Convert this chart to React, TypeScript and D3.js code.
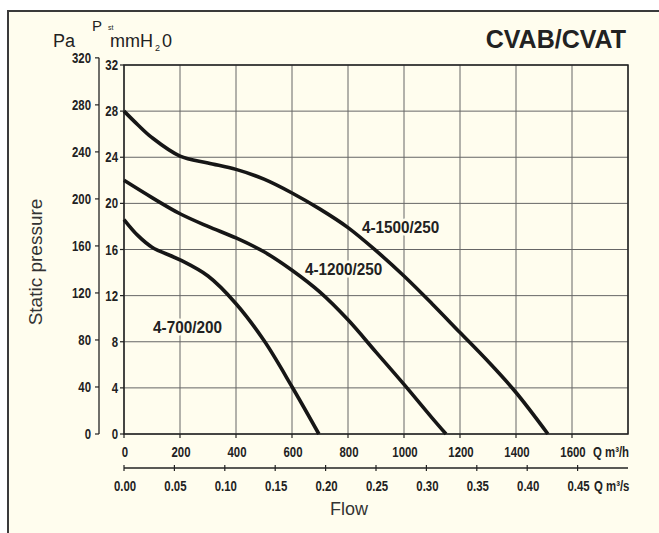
import React from "react";
import * as d3 from "d3";

const flowTicksH = [0, 200, 400, 600, 800, 1000, 1200, 1400, 1600];
const flowGridH = [0, 200, 400, 600, 800, 1000, 1200, 1400, 1600, 1800];
const flowTicksS = [0, 0.05, 0.1, 0.15, 0.2, 0.25, 0.3, 0.35, 0.4, 0.45];
const mmTicks = [0, 4, 8, 12, 16, 20, 24, 28, 32];
const paTicks = [0, 40, 80, 120, 160, 200, 240, 280, 320];

const curve700Q = [0, 50, 100, 200, 300, 400, 500, 600, 696];
const curve700P = [18.6, 17.2, 16.2, 15.1, 13.7, 11.3, 8.1, 4.1, 0];
const curve1200Q = [0, 100, 200, 300, 400, 500, 600, 700, 800, 900, 1000, 1100, 1150];
const curve1200P = [22.0, 20.5, 19.1, 18.0, 17.0, 15.8, 14.2, 12.3, 9.9, 7.1, 4.3, 1.4, 0];
const curve1500Q = [0, 50, 100, 200, 300, 400, 500, 600, 700, 800, 900, 1000, 1100, 1200, 1300, 1400, 1514];
const curve1500P = [28.0, 26.8, 25.7, 24.1, 23.5, 22.95, 22.1, 20.9, 19.5, 17.9, 15.9, 13.7, 11.3, 8.8, 6.3, 3.6, 0];

const curveNames = ["4-700/200", "4-1200/250", "4-1500/250"];
const labelQ = [104, 646, 850];
const labelP = [8.76, 13.8, 17.43];

const BG = "#FFFDEE";
const SANS = "'Liberation Sans', Arial, Helvetica, sans-serif";

function NT(props: { x: number; y: number; anchor?: string; sx?: number; size?: number; children: any }) {
  const { x, y, anchor = "start", sx = 0.76, size = 15, children } = props;
  return (
    <text
      transform={`translate(${x},${y}) scale(${sx},1)`}
      textAnchor={anchor}
      fontFamily={SANS}
      fontWeight="bold"
      fontSize={size}
      fill="#222"
    >
      {children}
    </text>
  );
}

export default function App() {
  const x = d3.scaleLinear().domain([0, 1800]).range([124, 628]);
  const y = d3.scaleLinear().domain([0, 32]).range([434, 65]);
  const xs = (v: number) => x(v * 3600);
  const yPa = (pa: number) => y(pa / 9.81);
  const line = d3
    .line<[number, number]>()
    .x((d) => x(d[0]))
    .y((d) => y(d[1]))
    .curve(d3.curveCatmullRom.alpha(0.5));
  const series = [
    curve700Q.map((q, i) => [q, curve700P[i]] as [number, number]),
    curve1200Q.map((q, i) => [q, curve1200P[i]] as [number, number]),
    curve1500Q.map((q, i) => [q, curve1500P[i]] as [number, number]),
  ];
  const x0 = x(0), x1 = x(1800), y0 = y(0), y1 = y(32);
  const axis2Y = 468;

  return (
    <div style={{ position: "absolute", left: 0, top: 0 }}>
      <svg width={659} height={533} style={{ display: "block", background: "#fff" }}>
        <rect x={8} y={11} width={700} height={600} fill={BG} stroke="#3a3a3a" strokeWidth={2} />
        {flowGridH.map((v) => (
          <line key={"gx" + v} x1={x(v)} x2={x(v)} y1={y1} y2={y0} stroke="#666" strokeWidth={1} />
        ))}
        {mmTicks.map((v) => (
          <line key={"gy" + v} x1={x0} x2={x1} y1={y(v)} y2={y(v)} stroke="#666" strokeWidth={1} />
        ))}
        <rect x={x0} y={y1} width={x1 - x0} height={y0 - y1} fill="none" stroke="#222" strokeWidth={1.5} />
        {curveNames.map((n, i) => (
          <text
            key={n}
            transform={`translate(${x(labelQ[i])},${y(labelP[i])}) scale(0.9,1)`}
            fontFamily={SANS}
            fontWeight="bold"
            fontSize={17}
            fill="#222"
            stroke={BG}
            strokeWidth={5}
            paintOrder="stroke"
          >
            {n}
          </text>
        ))}
        {series.map((s, i) => (
          <path key={"c" + i} d={line(s) || ""} fill="none" stroke="#161616" strokeWidth={3.6} />
        ))}
        {mmTicks.map((v) => (
          <g key={"mt" + v}>
            <line x1={x0 - 4} x2={x0} y1={y(v)} y2={y(v)} stroke="#222" strokeWidth={1.2} />
            <NT x={x0 - 6} y={y(v) + 5} anchor="end">{v}</NT>
          </g>
        ))}
        <line x1={99} x2={99} y1={yPa(320)} y2={yPa(0)} stroke="#222" strokeWidth={1.3} />
        {paTicks.map((v) => (
          <g key={"pt" + v}>
            <line x1={95} x2={99} y1={yPa(v)} y2={yPa(v)} stroke="#222" strokeWidth={1.2} />
            <NT x={91} y={yPa(v) + 5} anchor="end">{v}</NT>
          </g>
        ))}
        {flowTicksH.map((v) => (
          <g key={"bt" + v}>
            <line x1={x(v)} x2={x(v)} y1={y0} y2={y0 + 4} stroke="#222" strokeWidth={1.2} />
            <NT x={x(v) + 1} y={457} anchor="middle">{v}</NT>
          </g>
        ))}
        <NT x={593} y={457}>Q m³/h</NT>
        <line x1={x0} x2={x1} y1={axis2Y} y2={axis2Y} stroke="#222" strokeWidth={1.3} />
        {flowTicksS.map((v) => (
          <g key={"st" + v}>
            <line x1={xs(v)} x2={xs(v)} y1={axis2Y - 3} y2={axis2Y + 3} stroke="#222" strokeWidth={1.2} />
            <NT x={xs(v) + 1} y={491} anchor="middle">{v.toFixed(2)}</NT>
          </g>
        ))}
        <NT x={594} y={491}>Q m³/s</NT>
        <text x={349} y={515} textAnchor="middle" fontFamily={SANS} fontSize={18} fill="#333">
          Flow
        </text>
        <text
          transform="translate(42,262) rotate(-90)"
          textAnchor="middle"
          fontFamily={SANS}
          fontSize={19}
          fill="#333"
        >
          Static pressure
        </text>
        <text x={53} y={47} fontFamily={SANS} fontSize={18} fill="#222">Pa</text>
        <text x={92} y={31} fontFamily={SANS} fontSize={15} fill="#222">P</text>
        <text x={108} y={29.5} fontFamily={SANS} fontSize={7} fill="#222">st</text>
        <text x={110} y={47} fontFamily={SANS} fontSize={18} fill="#222">mmH</text>
        <text x={155} y={51} fontFamily={SANS} fontSize={9} fill="#222">2</text>
        <text x={162} y={47} fontFamily={SANS} fontSize={18} fill="#222">0</text>
        <text x={626} y={48} textAnchor="end" fontFamily={SANS} fontWeight="bold" fontSize={25} fill="#222">
          CVAB/CVAT
        </text>
      </svg>
    </div>
  );
}
